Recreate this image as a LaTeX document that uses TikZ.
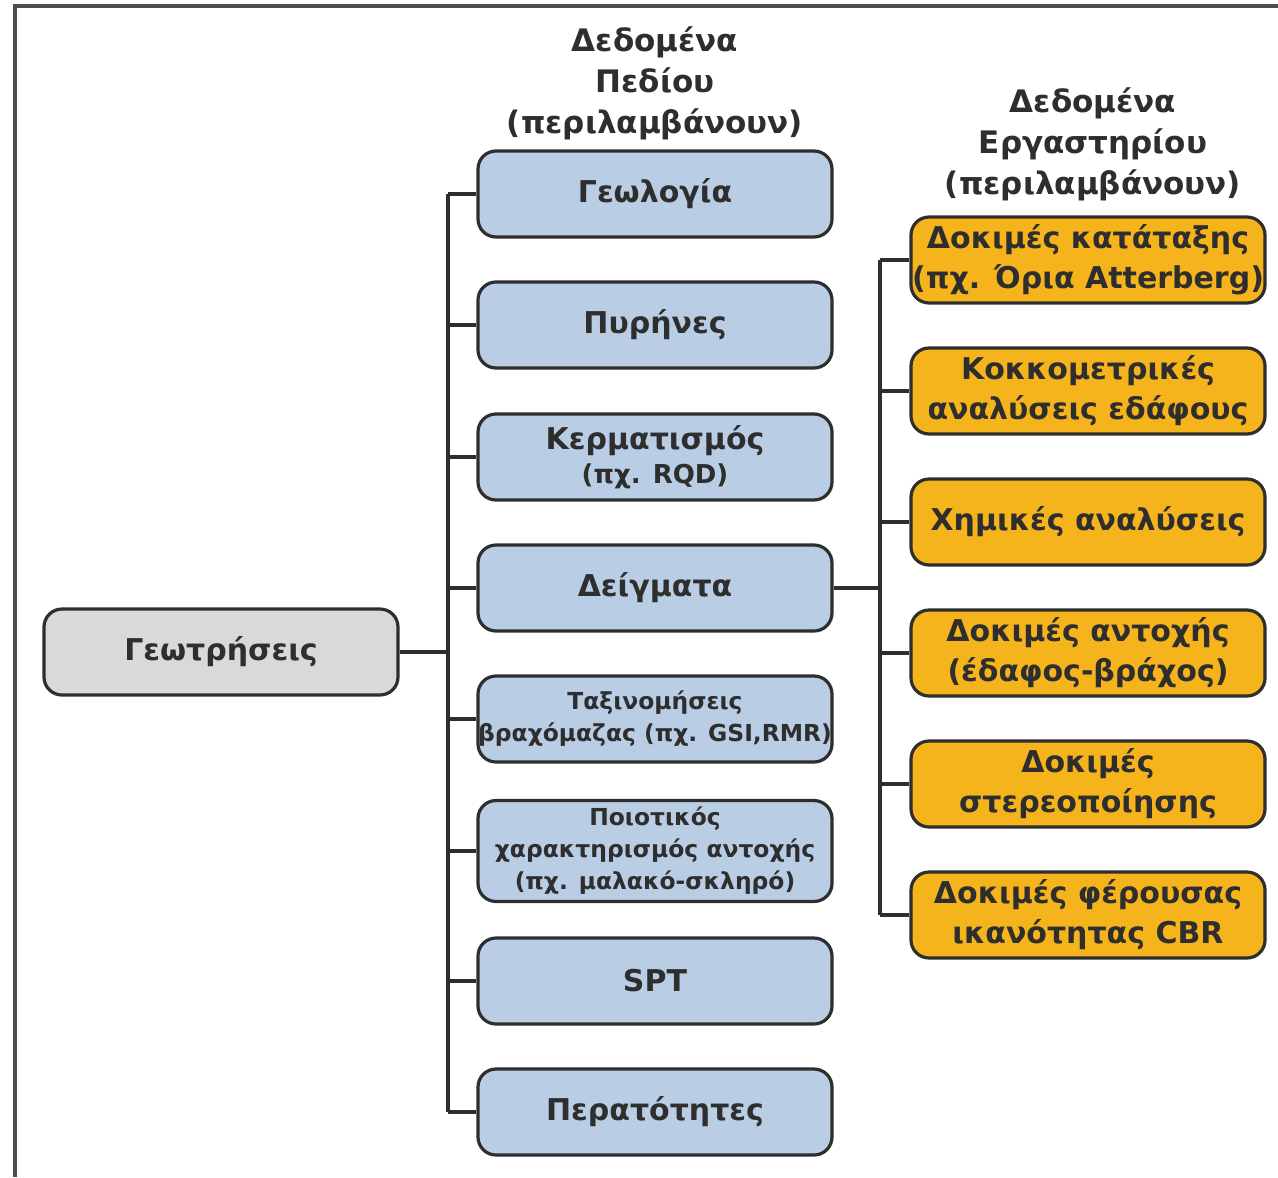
\documentclass[tikz,border=0pt]{standalone}
\usepackage{fontspec}
\setmainfont{DejaVu Sans}
\usepackage{xcolor}
\usetikzlibrary{positioning}

\definecolor{fieldblue}{HTML}{B9CDE5}
\definecolor{labgold}{HTML}{F5B41C}
\definecolor{boregray}{HTML}{D9D9D9}
\definecolor{inkgray}{HTML}{2E2E2E}

\begin{document}
\begin{tikzpicture}[x=0.5pt, y=-0.5pt,
  box/.style={draw=inkgray, line width=1.6pt, rounded corners=9pt,
              minimum width=177pt, minimum height=43pt, inner xsep=0pt,
              align=center, text=inkgray, font=\fontsize{15}{20}\selectfont\bfseries},
  field/.style={box, fill=fieldblue},
  lab/.style={box, fill=labgold},
  small/.style={font=\fontsize{11.7}{16}\selectfont\bfseries},
  heading/.style={align=center, text=inkgray, font=\fontsize{15.5}{20.5}\selectfont\bfseries},
  link/.style={line width=1.6pt, inkgray}
]
  \useasboundingbox (0,0) rectangle (1278,1177);
  % frame
  \draw[line width=1.6pt, inkgray!85] (15,1177) -- (15,6) -- (1278,6);

  % boreholes
  \node[box, fill=boregray] (bore) at (221,652) {Γεωτρήσεις};

  % field data
  \node[heading] (fhead) at (655,83) {Δεδομένα\\Πεδίου\\(περιλαμβάνουν)};
  \node[field] (geo)  at (655,194)  {Γεωλογία};
  \node[field] (core) at (655,325)  {Πυρήνες};
  \node[field] (frac) at (655,457)  {Κερματισμός\\[-3pt]{\fontsize{13}{16}\selectfont (πχ. RQD)}};
  \node[field] (samp) at (655,588)  {Δείγματα};
  \node[field, small] (rmc)  at (655,719)  {Ταξινομήσεις\\βραχόμαζας (πχ. GSI,RMR)};
  \node[field, small] (qual) at (655,851)  {Ποιοτικός\\χαρακτηρισμός αντοχής\\(πχ. μαλακό-σκληρό)};
  \node[field] (spt)  at (655,981)  {SPT};
  \node[field] (perm) at (655,1112) {Περατότητες};

  % laboratory data
  \node[heading] (lhead) at (1093,144) {Δεδομένα\\Εργαστηρίου\\(περιλαμβάνουν)};
  \node[lab] (atter) at (1088,260) {Δοκιμές κατάταξης\\(πχ. Όρια Atterberg)};
  \node[lab] (grain) at (1088,391) {Κοκκομετρικές\\αναλύσεις εδάφους};
  \node[lab] (chem)  at (1088,522) {Χημικές αναλύσεις};
  \node[lab] (stren) at (1088,653) {Δοκιμές αντοχής\\(έδαφος-βράχος)};
  \node[lab] (cons)  at (1088,784) {Δοκιμές\\στερεοποίησης};
  \node[lab] (cbr)   at (1088,915) {Δοκιμές φέρουσας\\ικανότητας CBR};

  % left tree
  \coordinate (ftrunk) at (448,652);
  \draw[link] (bore) -- (ftrunk);
  \draw[link] (ftrunk |- geo) -- (ftrunk |- perm);
  \draw[link] (ftrunk |- geo)  -- (geo);
  \draw[link] (ftrunk |- core) -- (core);
  \draw[link] (ftrunk |- frac) -- (frac);
  \draw[link] (ftrunk |- samp) -- (samp);
  \draw[link] (ftrunk |- rmc)  -- (rmc);
  \draw[link] (ftrunk |- qual) -- (qual);
  \draw[link] (ftrunk |- spt)  -- (spt);
  \draw[link] (ftrunk |- perm) -- (perm);

  % right tree
  \coordinate (ltrunk) at (880,588);
  \draw[link] (samp) -- (ltrunk);
  \draw[link] (ltrunk |- atter) -- (ltrunk |- cbr);
  \draw[link] (ltrunk |- atter) -- (atter);
  \draw[link] (ltrunk |- grain) -- (grain);
  \draw[link] (ltrunk |- chem)  -- (chem);
  \draw[link] (ltrunk |- stren) -- (stren);
  \draw[link] (ltrunk |- cons)  -- (cons);
  \draw[link] (ltrunk |- cbr)   -- (cbr);
\end{tikzpicture}
\end{document}
